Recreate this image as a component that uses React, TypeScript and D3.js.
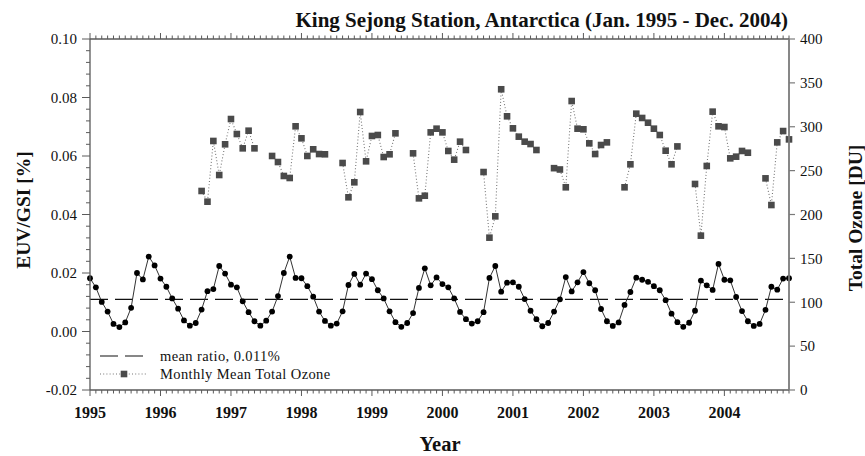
import React from "react";
import * as d3 from "d3";

// Monthly EUV/GSI ratio [%], Jan 1995 – Dec 2004
const euvRatio: number[] = [
  0.0182, 0.0151, 0.0101, 0.0068, 0.0026, 0.0015, 0.0031, 0.0081, 0.0200, 0.0178, 0.0256, 0.0226,
  0.0181, 0.0153, 0.0113, 0.0078, 0.0038, 0.0020, 0.0029, 0.0075, 0.0138, 0.0145, 0.0224, 0.0198,
  0.0160, 0.0151, 0.0103, 0.0066, 0.0035, 0.0020, 0.0037, 0.0068, 0.0121, 0.0200, 0.0256, 0.0183,
  0.0182, 0.0155, 0.0119, 0.0068, 0.0036, 0.0020, 0.0027, 0.0069, 0.0159, 0.0197, 0.0160, 0.0198,
  0.0179, 0.0141, 0.0113, 0.0069, 0.0032, 0.0016, 0.0029, 0.0063, 0.0149, 0.0216, 0.0158, 0.0185,
  0.0162, 0.0151, 0.0113, 0.0067, 0.0042, 0.0027, 0.0035, 0.0066, 0.0183, 0.0224, 0.0136, 0.0167,
  0.0168, 0.0153, 0.0111, 0.0071, 0.0042, 0.0018, 0.0029, 0.0068, 0.0110, 0.0186, 0.0137, 0.0168,
  0.0203, 0.0165, 0.0141, 0.0077, 0.0035, 0.0019, 0.0031, 0.0091, 0.0135, 0.0184, 0.0177, 0.0170,
  0.0155, 0.0141, 0.0107, 0.0061, 0.0032, 0.0016, 0.0030, 0.0071, 0.0174, 0.0158, 0.0142, 0.0231,
  0.0177, 0.0175, 0.0118, 0.0070, 0.0035, 0.0019, 0.0026, 0.0074, 0.0153, 0.0143, 0.0181, 0.0182,
];

// Monthly mean total ozone [DU]; null = no observation (polar night / before record)
const totalOzone: (number | null)[] = [
  null, null, null, null, null, null, null, null, null, null, null, null,
  null, null, null, null, null, null, null, 226.8, 214.6, 283.8, 245.0, 280.0,
  308.8, 291.7, 275.4, 295.5, 275.4, null, null, 266.7, 259.8, 243.9, 241.6, 300.5,
  286.8, 266.7, 274.3, 268.9, 268.6, null, null, 258.7, 219.6, 236.7, 316.8, 260.6,
  289.5, 290.6, 265.5, 268.6, 292.5, null, null, 269.7, 218.4, 221.4, 293.6, 297.8,
  293.6, 272.4, 262.5, 283.0, 273.5, null, null, 248.4, 173.6, 197.9, 342.7, 311.9,
  298.2, 288.7, 283.0, 280.3, 273.5, null, null, 252.8, 251.3, 231.0, 329.3, 297.8,
  297.1, 281.1, 268.9, 279.2, 282.2, null, null, 231.0, 257.2, 314.9, 310.0, 304.6,
  297.8, 290.6, 272.7, 257.2, 277.6, null, null, 234.8, 175.9, 255.3, 317.2, 300.5,
  299.7, 264.0, 265.9, 272.4, 270.4, null, null, 241.2, 210.8, 282.2, 295.1, 285.6,
];

const meanRatio = 0.011;

const yearLabels = ["1995", "1996", "1997", "1998", "1999", "2000", "2001", "2002", "2003", "2004"];
const leftTicks = [-0.02, 0.0, 0.02, 0.04, 0.06, 0.08, 0.1];
const rightTicks = [0, 50, 100, 150, 200, 250, 300, 350, 400];

const titleText = "King Sejong Station, Antarctica (Jan. 1995 - Dec. 2004)";
const legendMean = "mean ratio, 0.011%";
const legendOzone = "Monthly Mean Total Ozone";

export default function App() {
  const left = 90;
  const right = 789;
  const top = 39;
  const bottom = 390;

  const x = d3.scaleLinear().domain([0, 119]).range([left, right]);
  const yL = d3.scaleLinear().domain([-0.02, 0.1]).range([bottom, top]);
  const yR = d3.scaleLinear().domain([0, 400]).range([bottom, top]);

  const months = d3.range(euvRatio.length);
  const minorLeft = d3.range(0, 31).map((i) => -0.02 + i * 0.004);

  const euvLine = d3
    .line<number>()
    .x((_, i) => x(i))
    .y((d) => yL(d));

  const ozoneLine = d3
    .line<number | null>()
    .defined((d) => d != null)
    .x((_, i) => x(i))
    .y((d) => yR(d as number));

  const axisColor = "#5a5a5a";
  const sq = 6.6;

  return (
    <svg
      width={865}
      height={456}
      style={{ position: "absolute", left: 0, top: 0, background: "#fff" }}
      fontFamily="'Liberation Serif', 'Times New Roman', serif"
    >
      <rect x={0} y={0} width={865} height={456} fill="#fff" />

      {/* title */}
      <text x={788} y={27} textAnchor="end" fontSize={21} fontWeight="bold" fill="#111">
        {titleText}
      </text>

      {/* mean ratio line */}
      <line
        x1={left}
        x2={right}
        y1={yL(meanRatio)}
        y2={yL(meanRatio)}
        stroke="#111"
        strokeWidth={1.2}
        strokeDasharray="18,7"
      />

      {/* total ozone series */}
      <path
        d={ozoneLine(totalOzone) || ""}
        fill="none"
        stroke="#777"
        strokeWidth={1.1}
        strokeDasharray="1,2.2"
      />
      {totalOzone.map((v, i) =>
        v == null ? null : (
          <rect
            key={"o" + i}
            x={x(i) - sq / 2}
            y={yR(v) - sq / 2}
            width={sq}
            height={sq}
            fill="#4a4a4a"
          />
        )
      )}

      {/* EUV/GSI ratio series */}
      <path d={euvLine(euvRatio) || ""} fill="none" stroke="#333" strokeWidth={1} />
      {euvRatio.map((v, i) => (
        <circle key={"e" + i} cx={x(i)} cy={yL(v)} r={2.9} fill="#000" />
      ))}

      {/* frame */}
      <line x1={left} x2={right} y1={top} y2={top} stroke={axisColor} strokeWidth={1.3} />
      <line x1={left} x2={right} y1={bottom} y2={bottom} stroke={axisColor} strokeWidth={1.3} />
      <line x1={left} x2={left} y1={top} y2={bottom} stroke={axisColor} strokeWidth={1.3} />
      <line x1={right} x2={right} y1={top} y2={bottom} stroke="#7a7a7a" strokeWidth={1.8} />

      {/* month ticks, top and bottom */}
      {months.map((m) => {
        const major = m % 12 === 0;
        const len = major ? 6 : 3.5;
        return (
          <g key={"mt" + m}>
            <line x1={x(m)} x2={x(m)} y1={top} y2={top - len} stroke={axisColor} strokeWidth={1} />
            <line x1={x(m)} x2={x(m)} y1={bottom} y2={bottom + len} stroke={axisColor} strokeWidth={1} />
          </g>
        );
      })}

      {/* year labels */}
      {yearLabels.map((lab, i) => (
        <text
          key={"yl" + i}
          x={x(i * 12)}
          y={418}
          textAnchor="middle"
          fontSize={16}
          fontWeight="bold"
          fill="#111"
        >
          {lab}
        </text>
      ))}

      {/* left axis ticks */}
      {minorLeft.map((v, i) => (
        <line
          key={"lm" + i}
          x1={left}
          x2={left - (i % 5 === 0 ? 8 : 4)}
          y1={yL(v)}
          y2={yL(v)}
          stroke={axisColor}
          strokeWidth={1}
        />
      ))}
      {leftTicks.map((v, i) => (
        <text
          key={"ll" + i}
          x={77}
          y={yL(v)}
          dy="0.35em"
          textAnchor="end"
          fontSize={15}
          fill="#111"
        >
          {v.toFixed(2)}
        </text>
      ))}

      {/* right axis ticks */}
      {rightTicks.map((v, i) => (
        <g key={"r" + i}>
          <line x1={right} x2={right + 6} y1={yR(v)} y2={yR(v)} stroke="#7a7a7a" strokeWidth={1.2} />
          <text x={800} y={yR(v)} dy="0.35em" fontSize={15} fill="#111">
            {v}
          </text>
        </g>
      ))}

      {/* axis titles */}
      <text
        transform={`translate(30, 210) rotate(-90)`}
        textAnchor="middle"
        fontSize={19.5}
        fontWeight="bold"
        fill="#111"
      >
        EUV/GSI [%]
      </text>
      <text
        transform={`translate(862, 218) rotate(-90)`}
        textAnchor="middle"
        fontSize={19.5}
        fontWeight="bold"
        fill="#111"
      >
        Total Ozone [DU]
      </text>
      <text x={440} y={451} textAnchor="middle" fontSize={20.5} fontWeight="bold" fill="#111">
        Year
      </text>

      {/* legend */}
      <line x1={100} x2={143} y1={356} y2={356} stroke="#111" strokeWidth={1.2} strokeDasharray="18,7" />
      <text x={160} y={360.5} fontSize={14.5} letterSpacing={0.4} fill="#111">
        {legendMean}
      </text>
      <line x1={100} x2={146} y1={374} y2={374} stroke="#777" strokeWidth={1.1} strokeDasharray="1,2.2" />
      <rect x={124 - sq / 2} y={374 - sq / 2} width={sq} height={sq} fill="#4a4a4a" />
      <text x={160} y={378.5} fontSize={14.5} letterSpacing={0.4} fill="#111">
        {legendOzone}
      </text>
    </svg>
  );
}
